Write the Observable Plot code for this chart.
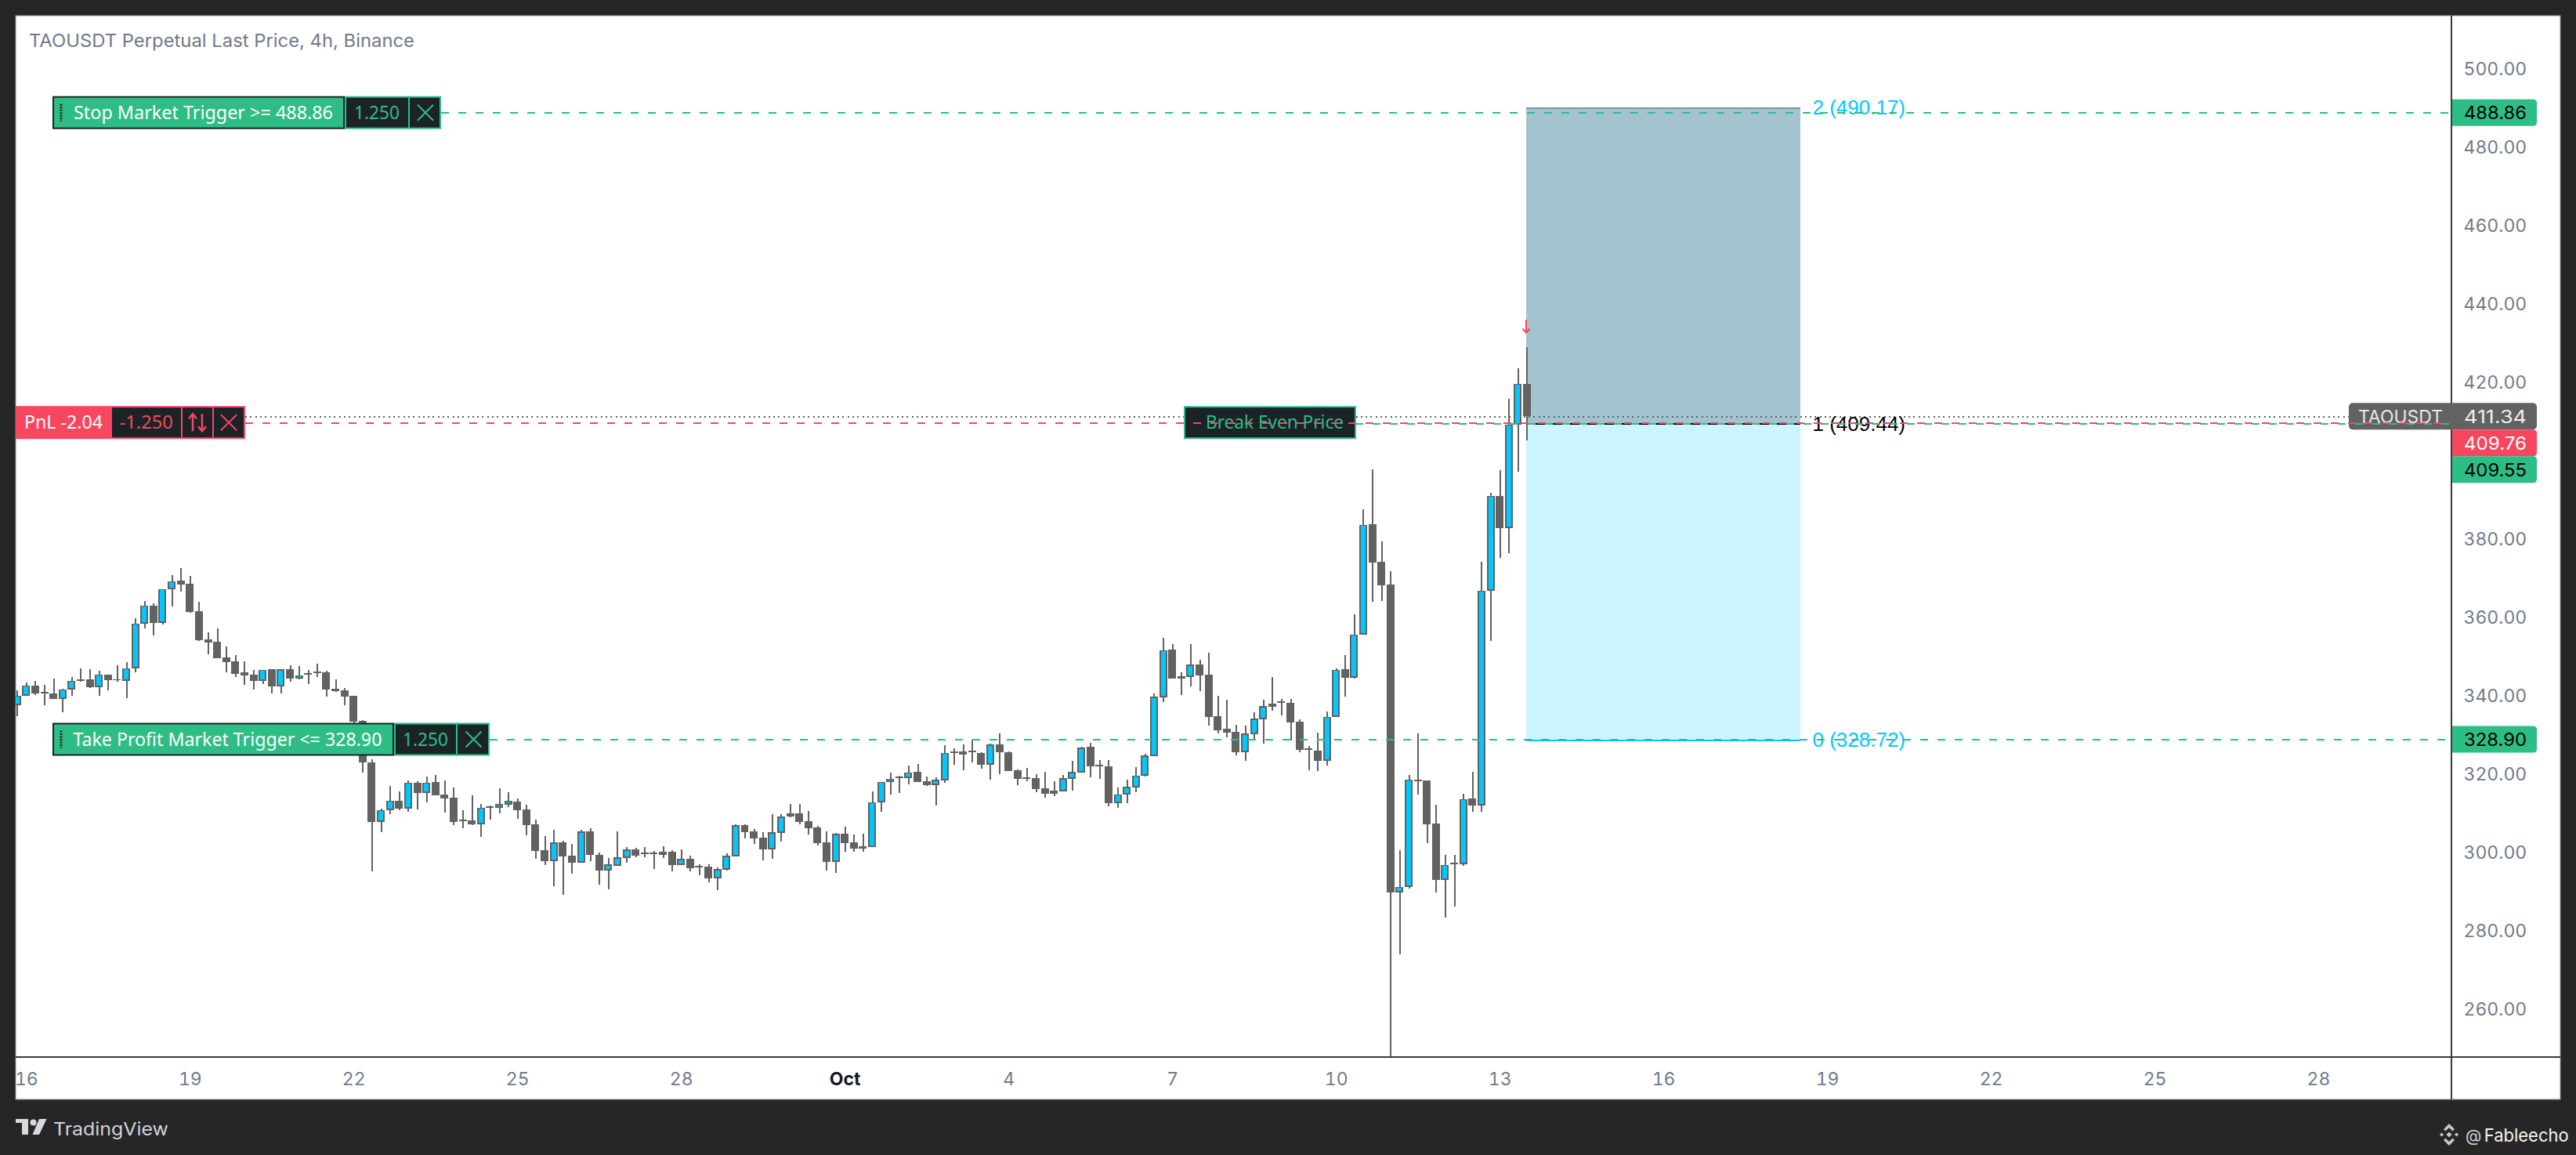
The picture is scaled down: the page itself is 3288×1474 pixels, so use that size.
<!DOCTYPE html>
<html><head><meta charset="utf-8">
<style>html,body{margin:0;padding:0;background:#262626}svg{display:block}</style>
<script src="https://cdn.jsdelivr.net/npm/d3@7"></script>
<script src="https://cdn.jsdelivr.net/npm/@observablehq/plot@0.6"></script>
</head><body><div id="chart"></div>
<script>
const open = [
337.6,340.1,342.7,341.0,340.6,339.3,341.7,344.3,344.2,342.3,
345.5,344.3,343.9,347.1,358.5,363.1,358.7,367.3,369.4,368.6,
361.6,354.4,353.8,349.8,348.8,346.0,345.4,343.9,346.8,342.5,
346.9,344.5,345.8,346.2,346.0,341.8,341.4,340.0,333.6,323.1,
307.9,310.9,313.3,311.3,317.9,315.3,318.0,314.8,314.0,308.5,
308.2,307.2,311.8,311.4,312.2,313.0,311.0,307.2,300.6,297.8,
302.6,299.2,297.4,305.4,299.4,295.4,296.6,298.6,300.8,300.0,
300.0,300.2,300.2,296.8,298.4,296.6,296.4,293.4,295.6,299.0,
307.0,305.4,303.8,300.8,305.0,310.0,310.0,308.0,306.4,302.6,
297.6,304.8,302.6,301.6,301.5,312.9,318.1,319.4,319.1,320.6,
318.2,317.2,318.4,325.8,325.8,326.0,325.4,322.4,327.6,325.6,
321.0,319.2,319.0,316.4,315.8,315.6,318.8,320.4,327.0,322.4,
322.0,312.6,314.8,316.6,319.6,324.6,339.6,351.8,345.0,344.8,
348.0,345.4,334.8,331.6,330.8,325.6,330.3,334.1,338.0,338.6,
338.2,333.4,326.7,326.0,323.5,334.7,346.8,344.6,355.7,383.8,
374.2,368.4,289.9,291.3,318.7,318.4,307.4,293.0,297.4,297.1,
313.8,312.1,366.9,391.1,382.8,409.3,419.7];
const close = [
340.1,342.7,340.7,340.7,339.3,341.7,343.9,343.9,342.3,345.5,
344.1,344.0,347.1,358.5,363.1,358.7,367.3,369.3,368.5,361.5,
354.3,353.7,349.6,348.7,345.7,345.3,343.9,346.7,342.5,346.8,
344.4,345.3,345.5,345.8,341.7,341.2,339.9,333.5,323.1,307.9,
310.9,313.3,311.2,317.9,315.3,317.9,314.6,313.8,307.8,308.1,
307.2,311.5,311.4,312.4,313.2,310.8,307.0,300.4,297.8,302.6,
299.0,297.4,305.4,299.4,295.4,297.0,298.8,300.8,299.2,299.6,
299.6,299.4,296.8,298.4,296.0,296.2,293.4,295.8,299.2,307.0,
305.2,303.6,300.8,305.2,309.2,309.2,307.8,306.2,302.4,297.6,
304.8,302.4,301.1,301.1,312.9,318.1,318.9,319.1,320.5,318.0,
317.2,318.6,325.5,325.4,325.0,325.6,322.4,327.6,325.6,320.8,
318.8,318.8,316.2,315.0,315.0,319.0,320.6,326.8,322.0,322.0,
312.6,314.9,316.8,319.7,324.8,339.8,351.7,344.4,344.4,348.0,
345.2,334.6,331.2,330.6,325.6,330.4,334.2,337.4,337.2,338.2,
333.2,326.2,326.3,323.4,334.7,346.7,344.6,355.7,383.7,374.0,
368.2,289.8,291.3,318.7,318.3,307.2,293.0,296.9,297.0,313.7,
312.0,366.9,391.1,382.8,409.3,419.7,411.34];
const high = [
341.4,343.5,343.9,342.9,344.5,341.9,344.9,347.1,346.9,346.5,
345.5,347.9,348.7,359.9,364.3,363.7,367.3,370.9,372.7,370.7,
364.1,356.3,357.3,352.7,350.5,348.9,346.7,346.7,346.8,346.9,
347.9,347.7,346.7,348.3,346.5,344.3,342.1,340.0,333.9,323.9,
311.3,317.1,315.7,318.5,318.3,319.5,319.8,318.4,316.6,310.9,
314.6,312.5,312.0,316.4,315.4,313.8,312.2,308.4,304.2,305.8,
303.0,302.2,305.8,306.2,300.0,298.6,305.4,301.4,301.2,301.4,
300.4,301.6,300.6,300.8,299.2,297.0,297.0,296.2,299.8,307.2,
307.2,306.0,305.2,309.8,309.8,312.4,312.4,310.6,306.8,305.4,
305.0,306.6,304.6,304.8,315.6,318.1,320.4,319.6,322.2,322.6,
319.4,319.2,327.4,326.6,327.6,328.8,325.6,327.8,330.4,325.8,
321.2,321.6,320.0,320.6,318.2,319.8,323.4,327.0,328.0,323.6,
323.6,316.6,318.6,321.8,325.2,340.6,354.8,353.2,346.0,353.2,
349.2,351.0,340.0,339.0,332.6,332.4,335.8,339.0,344.8,339.2,
339.2,334.0,327.3,330.6,336.0,347.0,350.4,360.8,387.6,397.8,
379.4,371.8,300.6,319.8,330.4,318.4,312.2,299.4,299.4,315.0,
320.6,374.2,391.9,397.6,415.8,423.6,429.0];
const low = [
334.9,340.1,340.3,337.6,339.3,335.9,340.1,343.6,342.0,340.1,
341.5,343.6,339.5,346.1,357.3,355.5,358.3,362.9,366.7,361.3,
354.1,350.7,349.6,346.1,344.9,342.9,341.7,343.1,340.7,340.7,
343.7,344.3,343.1,344.9,339.9,341.1,337.7,332.9,320.5,295.3,
305.3,309.9,310.9,310.5,311.1,312.9,314.6,310.2,307.0,306.2,
307.0,304.0,308.4,310.0,311.6,308.6,304.4,298.4,296.8,291.4,
289.2,294.6,297.4,297.8,291.8,290.6,296.6,297.4,298.8,298.8,
295.8,298.6,295.2,296.8,295.2,294.2,292.4,290.4,295.4,299.0,
303.6,302.2,298.0,298.4,302.8,309.0,307.2,304.6,301.8,295.4,
294.8,300.2,300.2,300.2,301.5,310.4,314.8,315.2,317.4,318.0,
317.0,312.0,317.8,322.4,321.0,323.0,321.4,318.6,320.0,320.8,
317.2,318.2,315.4,314.0,314.4,315.6,315.8,320.4,319.2,318.8,
311.8,311.4,312.6,315.4,319.4,324.6,338.4,344.4,340.2,342.4,
341.2,332.4,330.4,329.4,324.8,323.4,328.9,327.8,336.2,335.0,
328.6,325.6,321.0,320.8,322.2,334.7,339.8,344.4,355.7,364.0,
364.2,247.0,274.0,290.8,314.8,302.4,289.8,283.4,286.2,296.6,
310.4,310.4,354.0,375.2,376.4,397.2,405.2];

const priceTicks = [260,280,300,320,340,360,380,420,440,460,480,500];
const dayTicks  = [1,19,37,55,73,109,127,145,163,181,199,217,235,253];
const dayLabels = ["16","19","22","25","28","4","7","10","13","16","19","22","25","28"];
const monthTick = [91];
const monthLabel = ["Oct"];

const stopPrice = 488.86, takePrice = 328.90, lastPrice = 411.34, pnlPrice = 409.76, bePrice = 409.55;
const fibLevels = [490.17, 409.44, 328.72];
const fibLabels = ["2 (490.17)", "1 (409.44)", "0 (328.72)"];

const GREY="#626262", BLUE="#00c8ff", GREEN="#2ebd85", RED="#f7465f", DARK="#1c2327", AXIS="#6f7a8a";
const PX0=21.7, STEP=11.61;
const toIndex = px => (px-PX0)/STEP;
const toPrice = py => 328.9+(943.5-py)/5;
const AXISFONT="Inter, sans-serif", TAGFONT="'Noto Sans', sans-serif";

const candles = open.map((o,i)=>({i,o,c:close[i],h:high[i],l:low[i]}));
const posStart = toIndex(1948), posEnd = toIndex(2298);

const panel = () => {
  const g=d3.create("svg:g");
  g.append("rect").attr("x",20).attr("y",20).attr("width",3248).attr("height",1383).attr("fill","#fff").attr("stroke","#8a8d92").attr("stroke-width",1);
  return g.node();
};
const frameLines = () => {
  const g=d3.create("svg:g").attr("stroke","#363a3e").attr("stroke-width",2);
  g.append("line").attr("x1",3129).attr("x2",3129).attr("y1",20).attr("y2",1403);
  g.append("line").attr("x1",20).attr("x2",3268).attr("y1",1349).attr("y2",1349);
  return g.node();
};
function T(g,x,y,s,o={}){
  const t=g.append("text").attr("x",x).attr("y",y).attr("dy","0.36em").text(s)
    .attr("font-family",o.font||TAGFONT).attr("font-size",o.size||23).attr("fill",o.fill||"#fff")
    .attr("text-anchor",o.anchor||"start");
  if(o.len) t.attr("textLength",o.len).attr("lengthAdjust","spacingAndGlyphs");
  return t;
}
function box(g,x,y,w,h,fill,stroke,sw=2){
  g.append("rect").attr("x",x+sw/2).attr("y",y+sw/2).attr("width",w-sw).attr("height",h-sw).attr("fill",fill).attr("stroke",stroke).attr("stroke-width",sw);
}
function cross(g,cx,cy,color){
  g.append("path").attr("d",`M${cx-10},${cy-10}L${cx+10},${cy+10}M${cx+10},${cy-10}L${cx-10},${cy+10}`).attr("stroke",color).attr("stroke-width",2).attr("fill","none");
}
function orderTag(g,cy,a){
  const t=cy-21;
  box(g,a.x0,t,a.x1-a.x0,42,GREEN,"#1c2327");
  box(g,a.x1,t,a.x2-a.x1,42,DARK,GREEN);
  box(g,a.x2-2,t,a.x3-a.x2+2,42,DARK,GREEN);
  g.append("line").attr("x1",78).attr("x2",78).attr("y1",cy-11).attr("y2",cy+11).attr("stroke","#1c2327").attr("stroke-width",3).attr("stroke-dasharray","2 1.5");
  T(g,a.tx,cy,a.text,{len:a.tlen});
  T(g,a.qx,cy,"1.250",{fill:GREEN,len:a.qlen});
  cross(g,(a.x2+a.x3)/2,cy,GREEN);
}
function priceTag(g,x0,cy,w,fill){
  const h=34,r=5,x1=x0+w;
  g.append("path").attr("d",`M${x0},${cy-h/2}H${x1-r}Q${x1},${cy-h/2} ${x1},${cy-h/2+r}V${cy+h/2-r}Q${x1},${cy+h/2} ${x1-r},${cy+h/2}H${x0}Z`).attr("fill",fill);
}
const tags = (index, scales) => {
  const g=d3.create("svg:g"), y=scales.y;
  orderTag(g,y(stopPrice),{x0:67,x1:440,x2:523,x3:563,tx:94,tlen:331,qx:452,qlen:58,text:"Stop Market Trigger >= 488.86"});
  orderTag(g,y(takePrice),{x0:67,x1:503,x2:584,x3:625,tx:93.4,tlen:394,qx:514,qlen:58,text:"Take Profit Market Trigger <= 328.90"});
  // PnL
  const c=y(pnlPrice), t=c-21;
  g.append("rect").attr("x",20).attr("y",t).attr("width",293).attr("height",42).attr("fill",RED);
  g.append("rect").attr("x",143).attr("y",t+2).attr("width",88).attr("height",38).attr("fill",DARK);
  g.append("rect").attr("x",233).attr("y",t+2).attr("width",38).attr("height",38).attr("fill",DARK);
  g.append("rect").attr("x",273).attr("y",t+2).attr("width",38).attr("height",38).attr("fill",DARK);
  T(g,31,c,"PnL -2.04",{len:100});
  T(g,152.7,c,"-1.250",{fill:RED,len:68});
  g.append("path").attr("d",`M246,${c+11}V${c-11}M241,${c-5}L246,${c-11}L251,${c-5}M258,${c-11}V${c+11}M253,${c+5}L258,${c+11}L263,${c+5}`).attr("stroke",RED).attr("stroke-width",2.5).attr("fill","none");
  cross(g,292,c,RED);
  // Break even
  box(g,1511,t,220,42,DARK,GREEN);
  T(g,1539,c,"Break Even Price",{fill:GREEN,len:176});
  // Red arrow above the last candle
  g.append("path").attr("d","M1948,408V424M1943.5,419.5L1948,424.5L1952.5,419.5").attr("stroke",RED).attr("stroke-width",2).attr("fill","none");
  // Right scale price tags
  priceTag(g,3130,y(stopPrice),108,GREEN);
  T(g,3145,y(stopPrice),"488.86",{fill:"#000",font:AXISFONT,len:80});
  priceTag(g,3130,y(takePrice),108,GREEN);
  T(g,3145,y(takePrice),"328.90",{fill:"#000",font:AXISFONT,len:80});
  const ly=y(lastPrice);
  g.append("rect").attr("x",2998).attr("y",ly-17).attr("width",240).attr("height",34).attr("rx",5).attr("fill",GREY);
  T(g,3010,ly,"TAOUSDT",{font:AXISFONT,len:108,fill:"#e8e8e8"});
  T(g,3145,ly,"411.34",{font:AXISFONT,len:80,fill:"#f0f0f0"});
  priceTag(g,3130,ly+34,108,RED);
  T(g,3145,ly+34,"409.76",{font:AXISFONT,len:80});
  priceTag(g,3130,ly+68,108,GREEN);
  T(g,3145,ly+68,"409.55",{fill:"#000",font:AXISFONT,len:80});
  // Legend title
  T(g,37,52,"TAOUSDT Perpetual Last Price, 4h, Binance",{font:AXISFONT,size:23,fill:"#6f7a8a",len:492});
  return g.node();
};
const footer = () => {
  const g=d3.create("svg:g");
  g.append("path").attr("fill","#d8d8dc").attr("d","M20,1428H36V1448H28V1433H20Z");
  g.append("circle").attr("cx",42.5).attr("cy",1432.5).attr("r",4).attr("fill","#d8d8dc");
  g.append("path").attr("fill","#d8d8dc").attr("d","M50,1428H59.5L50,1448H41.5Z");
  T(g,68,1440.5,"TradingView",{font:AXISFONT,fill:"#d1d4dc",len:147});
  const b=g.append("g").attr("fill","#c8c8c8").attr("transform","translate(3126,1448)");
  b.append("path").attr("d","M0,-14L7,-7L4.5,-4.5L0,-9L-4.5,-4.5L-7,-7Z");
  b.append("path").attr("d","M0,14L7,7L4.5,4.5L0,9L-4.5,4.5L-7,7Z");
  b.append("path").attr("d","M-9.5,-2.5L-7,0L-9.5,2.5L-12,0Z");
  b.append("path").attr("d","M9.5,-2.5L12,0L9.5,2.5L7,0Z");
  b.append("path").attr("d","M0,-3.5L3.5,0L0,3.5L-3.5,0Z");
  T(g,3147,1449,"@",{font:AXISFONT,size:21,fill:"#d1d4dc"});
  T(g,3170.7,1449,"Fableecho",{font:AXISFONT,size:23,fill:"#f4f4f4",len:108});
  return g.node();
};

const dash = {strokeWidth:2, strokeDasharray:"10 12", shapeRendering:"crispEdges"};
const crisp = {shapeRendering:"crispEdges", clip:true};
const chart = Plot.plot({
  width:3288, height:1474,
  marginLeft:20, marginRight:159, marginTop:20, marginBottom:125,
  style:{background:"#262626", fontFamily:AXISFONT},
  x:{type:"linear", domain:[toIndex(20),toIndex(3129)], range:[20,3129]},
  y:{type:"linear", domain:[toPrice(20),toPrice(1349)], range:[20,1349]},
  color:{type:"identity"},
  marks:[
    panel,
    Plot.rect([0],{x1:posStart,x2:posEnd,y1:fibLevels[0],y2:fibLevels[1],fill:"#a3c4ce"}),
    Plot.rect([0],{x1:posStart,x2:posEnd,y1:fibLevels[1],y2:fibLevels[2],fill:"#ccf4ff"}),
    Plot.ruleY([fibLevels[0]],{x1:posStart,x2:posEnd,stroke:"#7b98a3",strokeWidth:2,shapeRendering:"crispEdges"}),
    Plot.ruleY([fibLevels[1]],{x1:posStart,x2:posEnd,stroke:"#000",strokeWidth:2,shapeRendering:"crispEdges"}),
    Plot.ruleY([fibLevels[2]],{x1:posStart,x2:posEnd,stroke:BLUE,strokeWidth:2,shapeRendering:"crispEdges"}),
    Plot.ruleY([lastPrice],{x1:toIndex(313),x2:toIndex(2998),stroke:GREY,strokeWidth:2,strokeDasharray:"2 4.3",shapeRendering:"crispEdges"}),
    Plot.ruleX(candles,{x:"i",y1:"l",y2:"h",stroke:GREY,strokeWidth:2,...crisp}),
    Plot.rect(candles,{x1:d=>d.i-.43,x2:d=>d.i+.43,y1:"o",y2:"c",fill:GREY,...crisp}),
    Plot.rect(candles.filter(d=>d.c>=d.o),{x1:d=>d.i-.43,x2:d=>d.i+.43,y1:"o",y2:"c",fill:BLUE,insetLeft:2,insetRight:2,insetTop:1.8,insetBottom:1.8,...crisp}),
    frameLines,
    Plot.axisY(priceTicks,{anchor:"right",tickSize:0,tickPadding:15,tickFormat:".2f",label:null,fontSize:23,fill:AXIS}),
    Plot.axisX(dayTicks,{anchor:"bottom",tickSize:0,tickPadding:19,tickFormat:i=>dayLabels[dayTicks.indexOf(i)],label:null,fontSize:23,fill:AXIS}),
    Plot.axisX(monthTick,{anchor:"bottom",tickSize:0,tickPadding:19,tickFormat:i=>monthLabel[monthTick.indexOf(i)],label:null,fontSize:23,fontWeight:"bold",fill:"#131722"}),
    Plot.text(fibLabels,{x:toIndex(2313),y:(d,i)=>fibLevels[i],text:d=>d,textAnchor:"start",fontSize:26,fontFamily:"'Liberation Sans', sans-serif",fill:(d,i)=>i===1?"#000":BLUE}),
    tags,
    footer,
    Plot.ruleY([stopPrice],{x1:toIndex(563),x2:toIndex(3129),stroke:GREEN,...dash}),
    Plot.ruleY([takePrice],{x1:toIndex(625),x2:toIndex(3129),stroke:GREEN,...dash}),
    Plot.ruleY([bePrice],{x1:toIndex(1730),x2:toIndex(3129),stroke:GREEN,...dash}),
    Plot.ruleY([pnlPrice],{x1:toIndex(313),x2:toIndex(3129),stroke:RED,...dash})
  ]
});
document.getElementById("chart").append(chart);
</script></body></html>
